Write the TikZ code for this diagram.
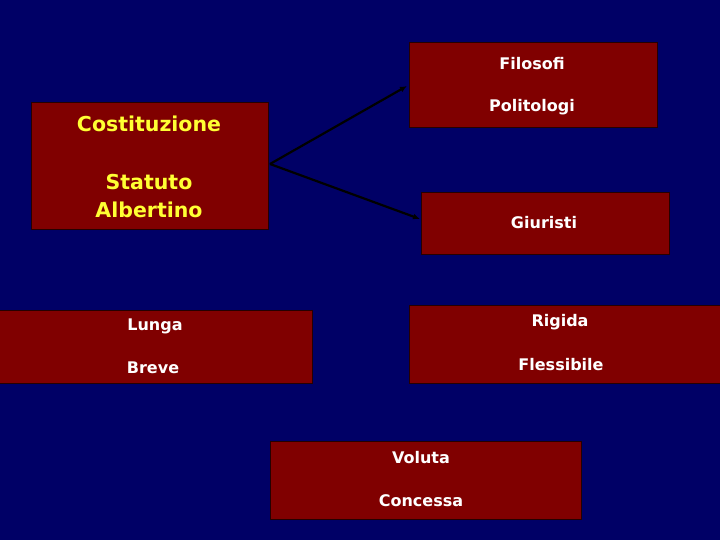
\documentclass[tikz,border=0pt]{standalone}
\usepackage{fontspec}
\setmainfont{DejaVu Sans}
\usetikzlibrary{arrows.meta}
\definecolor{navy}{HTML}{000066}
\definecolor{boxred}{HTML}{800000}
\definecolor{ylw}{HTML}{FFFF33}
\tikzset{
  redbox/.style={fill=boxred, draw=black!70!boxred, line width=1pt},
  wtext/.style={text=white, font=\bfseries\fontsize{16}{19}\selectfont, inner sep=0pt},
  ytext/.style={text=ylw, font=\bfseries\fontsize{20.5}{28}\selectfont, inner sep=0pt, align=center},
  conn/.style={draw=black, line width=2.2pt, -{Latex[length=7pt,width=6pt]}}
}
\begin{document}
\begin{tikzpicture}[x=1pt,y=-1pt]
\fill[navy] (0,0) rectangle (720,540);
\useasboundingbox (0,0) rectangle (720,540);
% boxes
\path[redbox] (409,43) rectangle (657,128);
\path[redbox] (31,103) rectangle (268,230);
\path[redbox] (421,193) rectangle (669,254);
\path[redbox] (-2,310) rectangle (312,383);
\path[redbox] (409,305) rectangle (722,383);
\path[redbox] (270,441) rectangle (581,519);
% texts
\node[wtext] (t1) at (532,64) {Filosofi};
\node[wtext] (t2) at (532,107) {Politologi};
\node[ytext] (t3) at (149,124) {Costituzione};
\node[ytext] (t4) at (149,196) {Statuto\\Albertino};
\node[wtext] (t5) at (544,223) {Giuristi};
\node[wtext] (t6) at (155,326) {Lunga};
\node[wtext] (t7) at (153,368) {Breve};
\node[wtext] (t8) at (560,322) {Rigida};
\node[wtext] (t9) at (561,365) {Flessibile};
\node[wtext] (t10) at (421,458) {Voluta};
\node[wtext] (t11) at (421,501) {Concessa};
% connectors
\coordinate (src) at (270,164);
\coordinate (fpin) at (407,86);
\coordinate (giin) at (420,219);
\draw[conn] (src) -- (fpin);
\draw[conn] (src) -- (giin);
\end{tikzpicture}
\end{document}
